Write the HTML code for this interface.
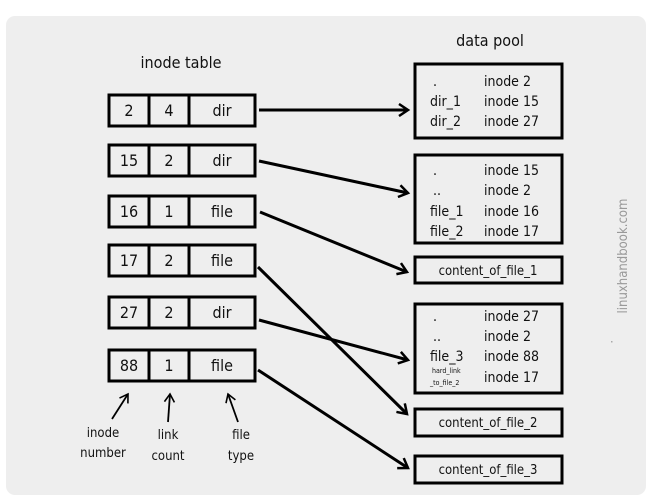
<!DOCTYPE html>
<html><head><meta charset="utf-8"><style>
html,body{margin:0;padding:0;background:#fff;}
svg{display:block;}
text{font-family:"DejaVu Sans Condensed","Liberation Sans",sans-serif;fill:#111;}
</style></head><body>
<svg width="656" height="496" viewBox="0 0 656 496" xmlns="http://www.w3.org/2000/svg">
<defs>
<marker id="a" markerWidth="14" markerHeight="14" refX="11" refY="7" orient="auto" markerUnits="userSpaceOnUse">
<path d="M2,1 L11,7 L2,13" fill="none" stroke="#000" stroke-width="2.5"/>
</marker>
<marker id="b" markerWidth="12" markerHeight="12" refX="10" refY="6" orient="auto" markerUnits="userSpaceOnUse">
<path d="M2,1 L10,6 L2,11" fill="none" stroke="#000" stroke-width="1.6"/>
</marker>
</defs>
<rect x="6" y="16" width="640" height="479" rx="9" fill="#eeeeee"/>
<text x="181" y="68" font-size="16" text-anchor="middle">inode table</text>
<text x="490" y="46" font-size="16" text-anchor="middle">data pool</text>
<g fill="none" stroke="#000" stroke-width="3">
<rect x="109" y="95" width="146" height="31"/><line x1="149" y1="95" x2="149" y2="126"/><line x1="189" y1="95" x2="189" y2="126"/>
<rect x="109" y="145" width="146" height="31"/><line x1="149" y1="145" x2="149" y2="176"/><line x1="189" y1="145" x2="189" y2="176"/>
<rect x="109" y="196" width="146" height="31"/><line x1="149" y1="196" x2="149" y2="227"/><line x1="189" y1="196" x2="189" y2="227"/>
<rect x="109" y="245" width="146" height="31"/><line x1="149" y1="245" x2="149" y2="276"/><line x1="189" y1="245" x2="189" y2="276"/>
<rect x="109" y="297" width="146" height="31"/><line x1="149" y1="297" x2="149" y2="328"/><line x1="189" y1="297" x2="189" y2="328"/>
<rect x="109" y="350" width="146" height="31"/><line x1="149" y1="350" x2="149" y2="381"/><line x1="189" y1="350" x2="189" y2="381"/>
<rect x="415" y="64" width="147" height="74"/>
<rect x="415" y="155" width="147" height="88"/>
<rect x="415" y="257" width="147" height="26"/>
<rect x="415" y="304" width="147" height="89"/>
<rect x="415" y="409" width="147" height="27"/>
<rect x="415" y="456" width="147" height="27"/>
</g>
<g font-size="16" text-anchor="middle">
<text x="129" y="116">2</text><text x="169" y="116">4</text><text x="222" y="116">dir</text>
<text x="129" y="166">15</text><text x="169" y="166">2</text><text x="222" y="166">dir</text>
<text x="129" y="217">16</text><text x="169" y="217">1</text><text x="222" y="217">file</text>
<text x="129" y="266">17</text><text x="169" y="266">2</text><text x="222" y="266">file</text>
<text x="129" y="318">27</text><text x="169" y="318">2</text><text x="222" y="318">dir</text>
<text x="129" y="371">88</text><text x="169" y="371">1</text><text x="222" y="371">file</text>
</g>
<g font-size="14">
<text x="433" y="86">.</text><text x="484" y="86">inode 2</text>
<text x="430" y="106">dir_1</text><text x="484" y="106">inode 15</text>
<text x="430" y="126">dir_2</text><text x="484" y="126">inode 27</text>
<text x="433" y="175">.</text><text x="484" y="175">inode 15</text>
<text x="433" y="195">..</text><text x="484" y="195">inode 2</text>
<text x="430" y="216">file_1</text><text x="484" y="216">inode 16</text>
<text x="430" y="236">file_2</text><text x="484" y="236">inode 17</text>
<text x="433" y="321">.</text><text x="484" y="321">inode 27</text>
<text x="433" y="341">..</text><text x="484" y="341">inode 2</text>
<text x="430" y="361">file_3</text><text x="484" y="361">inode 88</text>
<text x="484" y="382">inode 17</text>
<text x="488" y="275" text-anchor="middle" font-size="13">content_of_file_1</text>
<text x="488" y="427" text-anchor="middle" font-size="13">content_of_file_2</text>
<text x="488" y="474" text-anchor="middle" font-size="13">content_of_file_3</text>
</g>
<text x="432" y="373" font-size="7">hard_link</text>
<text x="430" y="385" font-size="7">_to_file_2</text>
<g stroke="#000" stroke-width="3" fill="none" marker-end="url(#a)">
<line x1="259" y1="110" x2="408" y2="110"/>
<line x1="259" y1="161" x2="408" y2="193"/>
<line x1="260" y1="212" x2="407" y2="272"/>
<line x1="258" y1="267" x2="407" y2="414"/>
<line x1="259" y1="320" x2="408" y2="360"/>
<line x1="258" y1="370" x2="408" y2="468"/>
</g>
<g stroke="#000" stroke-width="1.8" fill="none" marker-end="url(#b)">
<line x1="112" y1="419" x2="128" y2="394"/>
<line x1="168" y1="422" x2="170" y2="394"/>
<line x1="238" y1="422" x2="228" y2="394"/>
</g>
<g font-size="13" text-anchor="middle">
<text x="103" y="437">inode</text><text x="103" y="457">number</text>
<text x="168" y="439">link</text><text x="168" y="460">count</text>
<text x="241" y="439">file</text><text x="241" y="460">type</text>
</g>
<text transform="translate(627,256) rotate(-90)" font-size="13" text-anchor="middle" style="fill:#999">linuxhandbook.com</text>
<rect x="611" y="341" width="1.5" height="1.5" fill="#aaa"/>
</svg>
</body></html>
